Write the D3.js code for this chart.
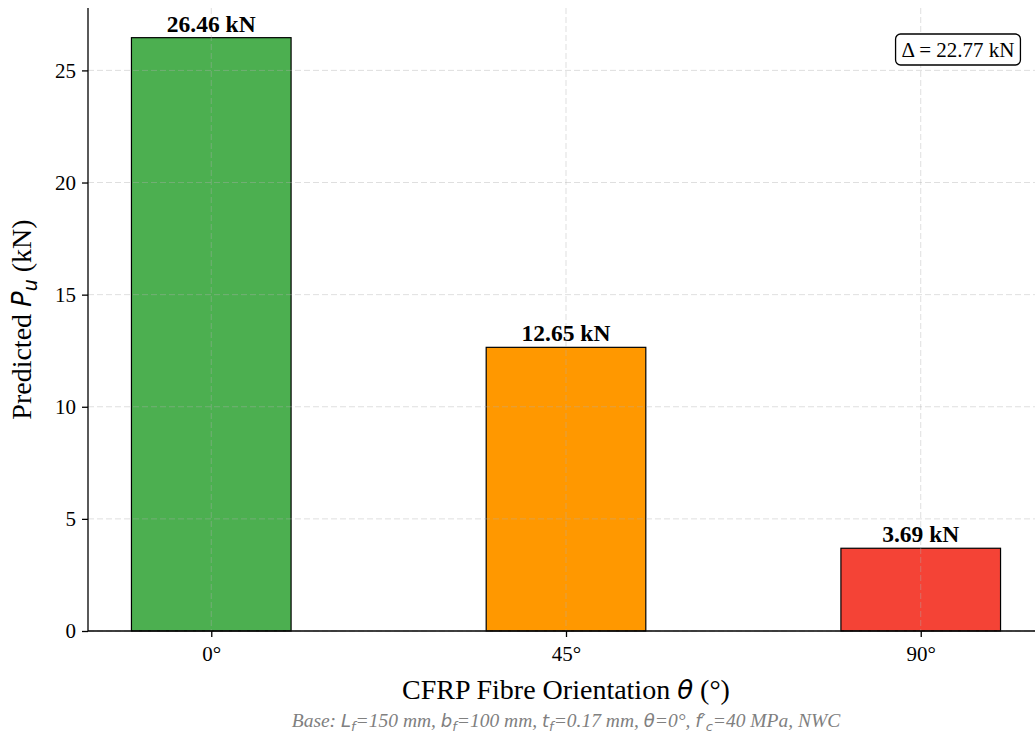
<!DOCTYPE html>
<html>
<head>
<meta charset="utf-8">
<script src="https://cdn.jsdelivr.net/npm/d3@7"></script>
<style>
  body { margin: 0; background: #fff; }
  svg { display: block; }
</style>
</head>
<body>
<div id="chart"></div>
<script>
// data
const angles = ["0°", "45°", "90°"];
const loads = [26.46, 12.65, 3.69];
const barColors = ["#4CAF50", "#FF9800", "#F44336"];
const yTicks = [0, 5, 10, 15, 20, 25];

const width = 1035;
const height = 737;
const m = { left: 88, top: 8, bottom: 106 };
const plotRight = 1044;

const svg = d3.select("#chart")
    .append("svg")
    .attr("width", width)
    .attr("height", height);

const x = d3.scaleLinear()
    .domain([-0.3475, 2.3475])
    .range([m.left, plotRight]);

const y = d3.scaleLinear()
    .domain([0, 26.46 * 1.05])
    .range([height - m.bottom, m.top]);

const barW = x(0.45) - x(0);
const serif = "'Liberation Serif', 'Times New Roman', serif";

// bars
svg.selectAll(".bar")
    .data(loads)
    .enter()
    .append("rect")
    .attr("class", "bar")
    .attr("x", (d, i) => x(i) - barW / 2)
    .attr("y", d => y(d))
    .attr("width", barW)
    .attr("height", d => y(0) - y(d))
    .attr("fill", (d, i) => barColors[i])
    .attr("stroke", "#000")
    .attr("stroke-width", 1.2);

// grid (drawn over bars, like the original)
const grid = svg.append("g")
    .attr("stroke", "#b0b0b0")
    .attr("stroke-opacity", 0.4)
    .attr("stroke-dasharray", "6,3")
    .attr("stroke-width", 1);

grid.selectAll(".gy")
    .data(yTicks)
    .enter()
    .append("line")
    .attr("x1", m.left).attr("x2", plotRight)
    .attr("y1", d => y(d)).attr("y2", d => y(d));

grid.selectAll(".gx")
    .data(angles)
    .enter()
    .append("line")
    .attr("x1", (d, i) => x(i)).attr("x2", (d, i) => x(i))
    .attr("y1", y.range()[1]).attr("y2", y(0));

// axes
const yAxis = svg.append("g")
    .attr("transform", `translate(${m.left},0)`)
    .call(d3.axisLeft(y).tickValues(yTicks).tickSize(6).tickPadding(6));

const xAxis = svg.append("g")
    .attr("transform", `translate(0,${y(0)})`)
    .call(d3.axisBottom(x).tickValues([0, 1, 2])
        .tickFormat(i => angles[i]).tickSize(6).tickPadding(9));

[yAxis, xAxis].forEach(a => {
    a.select(".domain").attr("stroke", "#000").attr("stroke-width", 1.3);
    a.selectAll(".tick line").attr("stroke", "#000").attr("stroke-width", 1.3);
    a.selectAll(".tick text")
        .attr("fill", "#000")
        .style("font-family", serif)
        .style("font-size", "21px");
});
yAxis.select(".domain").attr("d", `M0,${y.range()[1]}V${y(0)}`);
xAxis.select(".domain").attr("d", `M${m.left},0H${plotRight}`);

// value labels
svg.selectAll(".val")
    .data(loads)
    .enter()
    .append("text")
    .attr("x", (d, i) => x(i))
    .attr("y", d => y(d) - 6)
    .attr("text-anchor", "middle")
    .style("font-family", serif)
    .style("font-weight", "bold")
    .style("font-size", "23.5px")
    .text(d => d.toFixed(2) + " kN");

// delta box
const delta = d3.max(loads) - d3.min(loads);
const box = svg.append("g");
const dText = box.append("text")
    .attr("x", 958)
    .attr("y", 57)
    .attr("text-anchor", "middle")
    .style("font-family", serif)
    .style("font-size", "21px")
    .text("Δ = " + delta.toFixed(2) + " kN");
const bb = dText.node().getBBox();
box.insert("rect", "text")
    .attr("x", bb.x - 6)
    .attr("y", 34)
    .attr("width", bb.width + 12)
    .attr("height", 31)
    .attr("rx", 5)
    .attr("fill", "#fff")
    .attr("stroke", "#000")
    .attr("stroke-width", 1.3);

// axis labels
const yLab = svg.append("text")
    .attr("transform", `translate(31,${(y(0) + y.range()[1]) / 2}) rotate(-90)`)
    .attr("text-anchor", "middle")
    .style("font-family", serif)
    .style("font-size", "28px");
yLab.append("tspan").text("Predicted ");
yLab.append("tspan").style("font-family", "'DejaVu Sans'").style("font-style", "italic").style("font-size", "26px").text("P");
yLab.append("tspan").style("font-family", "'DejaVu Sans'").style("font-style", "italic").style("font-size", "19px").attr("dy", 6).text("u");
yLab.append("tspan").attr("dy", -6).text(" (kN)");

const xLab = svg.append("text")
    .attr("x", (m.left + plotRight) / 2)
    .attr("y", 699)
    .attr("text-anchor", "middle")
    .style("font-family", serif)
    .style("font-size", "28px");
xLab.append("tspan").text("CFRP Fibre Orientation ");
xLab.append("tspan").style("font-family", "'DejaVu Sans'").style("font-style", "italic").style("font-size", "26px").text("θ");
xLab.append("tspan").text(" (°)");

// footnote
const note = svg.append("text")
    .attr("x", (m.left + plotRight) / 2)
    .attr("y", 727)
    .attr("text-anchor", "middle")
    .attr("fill", "#808080")
    .style("font-family", serif)
    .style("font-style", "italic")
    .style("font-size", "19.5px");
const sans = "'DejaVu Sans'";
const parts = [
    ["Base: ", null], ["L", "s"], ["f", "sub"], ["=150 mm, ", null],
    ["b", "s"], ["f", "sub"], ["=100 mm, ", null],
    ["t", "s"], ["f", "sub"], ["=0.17 mm, ", null],
    ["θ", "s"], ["=0°, ", null],
    ["f′", "s"], ["c", "sub"], ["=40 MPa, NWC", null]
];
let shifted = false;
parts.forEach(([t, kind]) => {
    const ts = note.append("tspan").text(t);
    let dy = 0;
    if (kind === "sub") { dy = shifted ? 0 : 4; shifted = true; }
    else if (shifted) { dy = -4; shifted = false; }
    if (dy) ts.attr("dy", dy);
    if (kind) ts.style("font-family", sans).style("font-size", kind === "sub" ? "13px" : "18px");
});
</script>
</body>
</html>
